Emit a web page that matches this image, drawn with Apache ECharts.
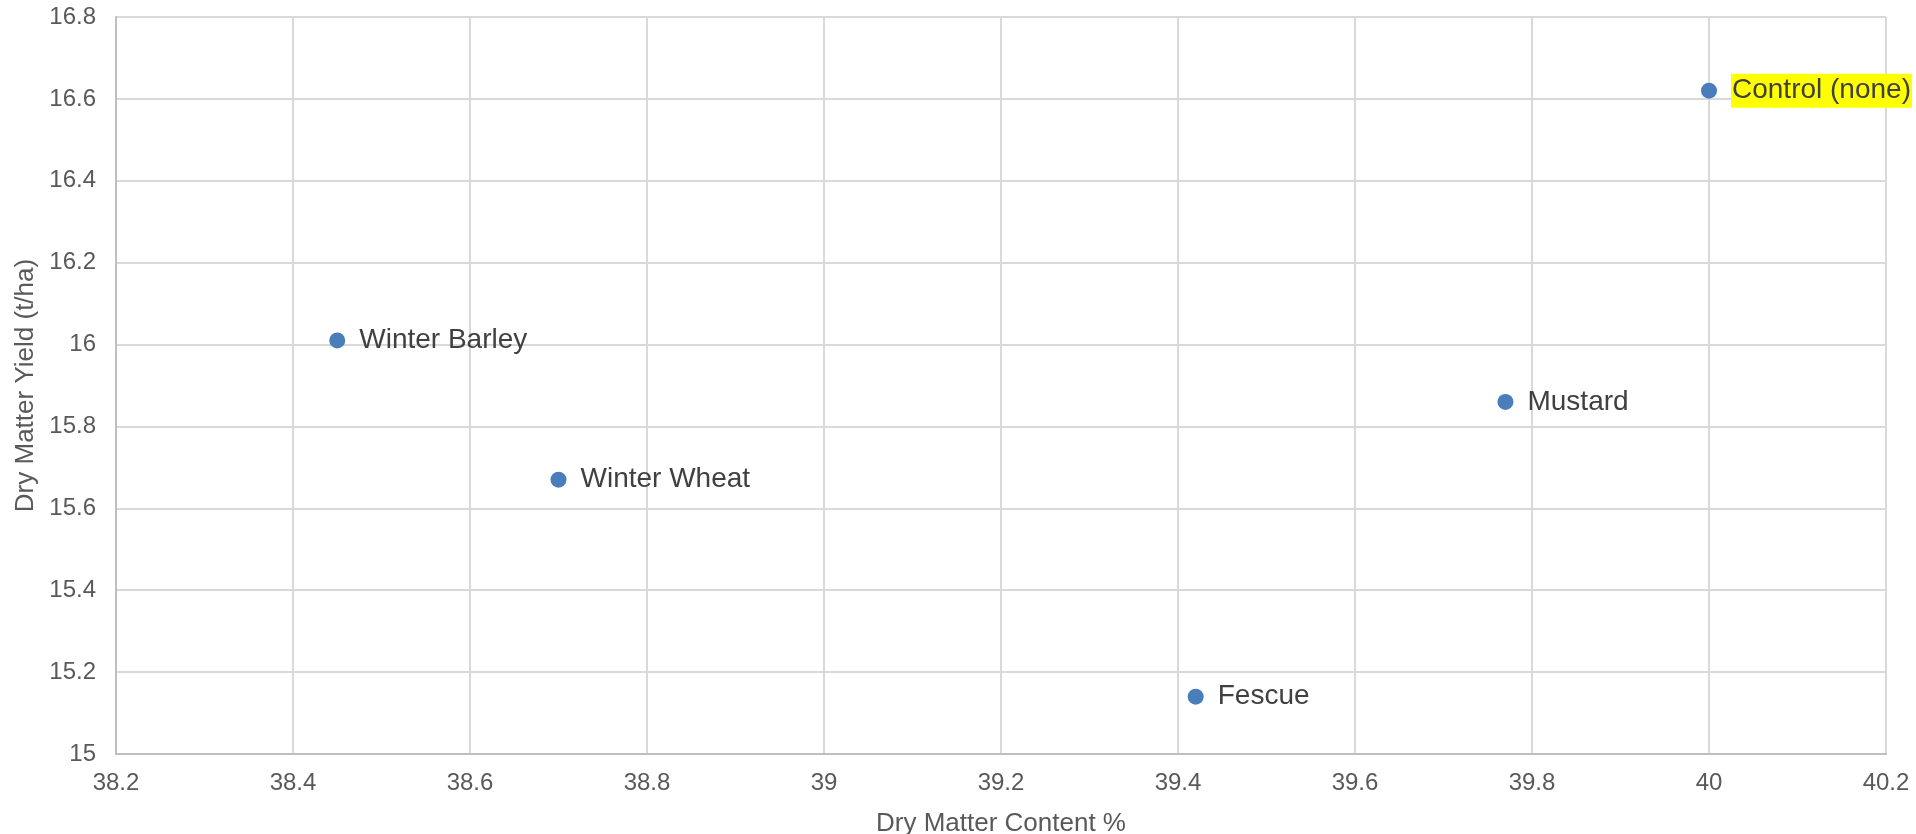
<!DOCTYPE html>
<html>
<head>
<meta charset="utf-8">
<script src="https://cdn.jsdelivr.net/npm/echarts@6/dist/echarts.min.js"></script>
<style>
  html, body { margin: 0; padding: 0; background: #fff; }
  #chart { width: 1916px; height: 834px; }
</style>
</head>
<body>
<div id="chart"></div>
<script>
// cover crops vs dry matter
const names = ['Winter Barley', 'Winter Wheat', 'Fescue', 'Mustard', 'Control (none)']
const dmContent = [38.45, 38.7, 39.42, 39.77, 40.0]
const dmYield = [16.01, 15.67, 15.14, 15.86, 16.62]
const highlighted = 'Control (none)'

const points = names.map((n, i) => {
  const p = { name: n, value: [dmContent[i], dmYield[i]] }
  if (n === highlighted) {
    p.label = { backgroundColor: '#ffff00', padding: [3, 1, 3, 1] }
  }
  return p
})

const chart = echarts.init(document.getElementById('chart'))
chart.setOption({
  animation: false,
  textStyle: { fontFamily: 'Liberation Sans, Arial, sans-serif' },
  grid: { left: 116, right: 30, top: 17, bottom: 80, outerBoundsMode: 'none', containLabel: false },
  xAxis: {
    type: 'value',
    min: 38.2,
    max: 40.2,
    interval: 0.2,
    name: 'Dry Matter Content %',
    nameLocation: 'middle',
    nameGap: 57,
    nameTextStyle: { fontSize: 26, color: '#595959' },
    axisLine: { show: true, lineStyle: { color: '#bfbfbf', width: 2 } },
    axisTick: { show: false },
    axisLabel: { fontSize: 24, color: '#595959', margin: 17 },
    splitLine: { lineStyle: { color: '#d9d9d9', width: 2 } }
  },
  yAxis: {
    type: 'value',
    min: 15,
    max: 16.8,
    interval: 0.2,
    name: 'Dry Matter Yield (t/ha)',
    nameLocation: 'middle',
    nameGap: 74,
    nameTextStyle: { fontSize: 26, color: '#595959' },
    axisLine: { show: true, lineStyle: { color: '#bfbfbf', width: 2 } },
    axisTick: { show: false },
    axisLabel: { fontSize: 24, color: '#595959', margin: 20 },
    splitLine: { lineStyle: { color: '#d9d9d9', width: 2 } }
  },
  series: [
    {
      type: 'scatter',
      symbolSize: 16,
      itemStyle: { color: '#4a7ebb', opacity: 1 },
      data: points,
      label: {
        show: true,
        position: 'right',
        distance: 14,
        formatter: '{b}',
        fontSize: 28,
        color: '#404040'
      }
    }
  ]
})
</script>
</body>
</html>
